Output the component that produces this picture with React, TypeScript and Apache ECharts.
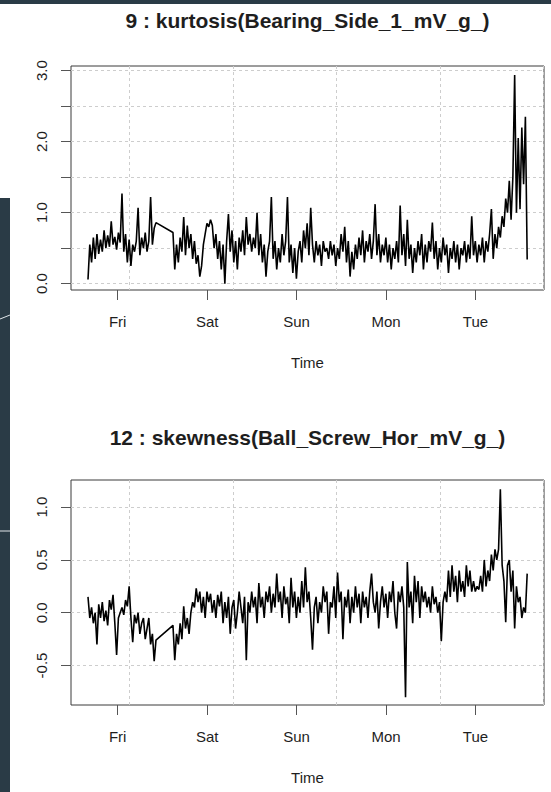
import React, { useEffect, useRef } from "react";
import * as echarts from "echarts";

// ---- Axis definitions (time in days, Thu 00:00 = 0) ----
const DAY_TICKS = [1, 2, 3, 4, 5];
const DAY_LABELS = ["Fri", "Sat", "Sun", "Mon", "Tue"];
const X_GRID_LINES = [1.1296, 2.287, 3.4444, 4.6018, 5.7592];
const X_MIN = 0.478;
const X_MAX = 5.766;

const K_Y_TICKS = [0, 0.5, 1, 1.5, 2, 2.5, 3];
const K_Y_LABELS = [0, 1, 2, 3];
const S_Y_TICKS = [-0.5, 0, 0.5, 1];
const S_Y_LABELS = [-0.5, 0, 0.5, 1];

// ---- Sampling: two runs of samples separated by a gap ----
const SEG_A_START = 0.668;
const SEG_B_START = 1.618;
const SAMPLE_STEP = 0.02;

// ---- Series 9 : kurtosis ----
const kurtosisA = [
  0.06, 0.55, 0.3, 0.65, 0.35, 0.7, 0.42, 0.62, 0.45, 0.75,
  0.5, 0.68, 0.52, 0.88, 0.55, 0.66, 0.48, 0.72, 0.58, 1.27,
  0.45, 0.7, 0.3, 0.62, 0.25, 0.55, 0.45, 0.6, 1.07, 0.4,
  0.65, 0.5, 0.72, 0.45, 0.6, 1.22, 0.55, 0.78, 0.86,
];
const kurtosisB = [
  0.72, 0.2, 0.55, 0.3, 0.65, 0.45, 0.94, 0.4, 0.82, 0.5,
  0.7, 0.35, 0.6, 0.28, 0.4, 0.1, 0.25, 0.55, 0.7, 0.85,
  0.8, 0.9, 0.82, 0.5, 0.7, 0.35, 0.6, 0.2, 0.55, 0.0,
  0.6, 0.98, 0.45, 0.75, 0.3, 0.6, 0.2, 0.65, 0.45, 0.75,
  0.4, 0.94, 0.55, 0.7, 0.45, 0.65, 0.5, 1.0, 0.4, 0.7,
  0.3, 0.55, 0.1, 0.45, 0.6, 1.22, 0.35, 0.6, 0.2, 0.5,
  0.3, 0.7, 0.4, 0.6, 1.22, 0.3, 0.55, 0.15, 0.5, 0.07,
  0.45, 0.6, 0.3, 0.75, 0.5, 0.85, 0.4, 1.07, 0.55, 0.3,
  0.6, 0.4, 0.55, 0.25, 0.6, 0.45, 0.5, 0.35, 0.6, 0.4,
  0.55, 0.25, 0.5, 0.35, 0.7, 0.45, 0.8, 0.3, 0.6, 0.1,
  0.45, 0.2, 0.55, 0.35, 0.65, 0.4, 0.75, 0.3, 0.6, 0.45,
  0.7, 0.35, 0.6, 1.12, 0.4, 0.7, 0.3, 0.55, 0.4, 0.65,
  0.3, 0.55, 0.2, 0.5, 0.35, 0.6, 0.3, 1.1, 0.4, 0.7,
  0.25, 0.9, 0.35, 0.55, 0.15, 0.5, 0.3, 0.6, 0.4, 0.7,
  0.2, 0.55, 0.3, 0.6, 0.45, 0.86, 0.35, 0.6, 0.2, 0.5,
  0.3, 0.65, 0.4, 0.55, 0.15, 0.5, 0.35, 0.6, 0.3, 0.55,
  0.2, 0.5, 0.4, 0.6, 0.3, 0.55, 0.35, 0.95, 0.4, 0.6,
  0.3, 0.55, 0.4, 0.65, 0.3, 0.6, 0.45, 0.7, 1.05, 0.35,
  0.7, 0.5, 0.8, 0.65, 0.95, 0.8, 1.2, 1.0, 1.45, 0.9,
  1.5, 2.94, 1.0, 2.05, 1.05, 2.2, 1.4, 2.35, 0.34,
];

// ---- Series 12 : skewness ----
const skewnessA = [
  0.15, -0.05, 0.05, -0.1, 0.0, -0.3, 0.08, -0.05, 0.1, -0.08,
  0.02, -0.12, 0.12, 0.03, 0.17, -0.1, -0.4, -0.05, 0.0, 0.05,
  -0.02, 0.12, 0.06, 0.25, -0.05, -0.28, -0.02, -0.1, 0.0, -0.2,
  -0.1, -0.05, -0.25, -0.15, -0.05, -0.3, -0.2, -0.46, -0.26,
];
const skewnessB = [
  -0.12, -0.45, -0.2, -0.3, -0.1, -0.25, 0.06, -0.15, -0.05, -0.2,
  0.0, 0.1, 0.05, 0.23, 0.1, 0.2, 0.0, 0.15, -0.05, 0.2,
  0.1, 0.18, 0.0, 0.12, -0.05, 0.17, 0.06, 0.2, -0.1, 0.1,
  -0.05, 0.15, -0.2, 0.05, 0.12, -0.15, 0.0, 0.2, 0.05, -0.1,
  0.15, -0.45, 0.1, 0.0, 0.2, 0.05, 0.15, -0.1, 0.28, 0.05,
  0.15, -0.05, 0.2, 0.1, 0.25, 0.0, 0.18, 0.05, 0.37, 0.1,
  0.2, -0.05, 0.25, 0.08, 0.15, -0.1, 0.33, 0.05, 0.2, -0.05,
  0.15, 0.0, 0.3, 0.05, 0.43, 0.1, 0.2, -0.05, -0.35, 0.05,
  0.15, -0.1, 0.1, 0.0, 0.25, 0.1, 0.2, -0.2, 0.1, 0.05,
  0.25, -0.05, 0.38, 0.1, 0.2, -0.25, 0.15, 0.05, 0.22, -0.1,
  0.15, 0.0, 0.25, 0.05, 0.18, -0.1, 0.2, 0.05, 0.15, -0.05,
  0.2, 0.37, 0.1, 0.0, 0.2, -0.15, 0.1, 0.25, 0.05, 0.18,
  -0.05, 0.2, 0.1, 0.3, 0.0, -0.15, 0.2, 0.1, 0.25, 0.05,
  -0.8, 0.48, 0.05, 0.2, -0.1, 0.35, 0.1, 0.3, -0.05, 0.25,
  0.1, 0.2, 0.05, 0.15, 0.0, 0.25, 0.08, 0.15, 0.0, 0.1,
  -0.27, 0.1, 0.2, 0.1, 0.4, 0.15, 0.45, 0.2, 0.35, 0.1,
  0.4, 0.2, 0.3, 0.15, 0.45, 0.25, 0.4, 0.2, 0.3, 0.2,
  0.25, 0.22, 0.35, 0.2, 0.5, 0.25, 0.4, 0.3, 0.55, 0.4,
  0.6, 0.5, 0.6, 1.17, 0.45, 0.3, -0.09, 0.45, 0.5, 0.2,
  0.4, -0.15, 0.25, 0.1, 0.15, -0.05, 0.05, 0.0, 0.37,
];

const TITLE_1 = "9 : kurtosis(Bearing_Side_1_mV_g_)";
const TITLE_2 = "12 : skewness(Ball_Screw_Hor_mV_g_)";
const X_NAME = "Time";

const FONT = "'Liberation Sans', Arial, Helvetica, sans-serif";
const TEXT_COLOR = "#1e1e1e";
const GRID_COLOR = "#cdcdcd";
const FRAME_COLOR = "#3a3a3a";
const DARK_BG = "#2a3b46";

function toPairs(a: number[], b: number[]) {
  const out: number[][] = [];
  a.forEach((v, i) => out.push([SEG_A_START + i * SAMPLE_STEP, v]));
  b.forEach((v, i) => out.push([SEG_B_START + i * SAMPLE_STEP, v]));
  return out;
}

export default function App() {
  const ref = useRef<HTMLDivElement>(null);

  useEffect(() => {
    if (!ref.current) return;
    const chart = echarts.init(ref.current, undefined, { renderer: "svg" });

    const grids = [
      { left: 71, top: 66, width: 473, height: 224 },
      { left: 71, top: 480, width: 473, height: 225 },
    ];

    const mainX = (gi: number) => ({
      type: "value",
      gridIndex: gi,
      min: X_MIN,
      max: X_MAX,
      axisLine: { show: false, onZero: false },
      axisTick: {
        show: true,
        length: 10,
        customValues: DAY_TICKS,
        lineStyle: { color: "#555", width: 1 },
      },
      axisLabel: {
        customValues: DAY_TICKS,
        formatter: (v: number) => DAY_LABELS[DAY_TICKS.indexOf(Math.round(v))] ?? "",
        margin: 24,
        fontSize: 15,
        fontFamily: FONT,
        color: TEXT_COLOR,
      },
      splitLine: { show: false },
      name: X_NAME,
      nameLocation: "middle",
      nameGap: 65,
      nameTextStyle: { fontSize: 15, fontFamily: FONT, color: TEXT_COLOR },
    });

    const gridX = (gi: number) => ({
      type: "value",
      gridIndex: gi,
      min: X_MIN,
      max: X_MAX,
      axisLine: { show: false, onZero: false },
      axisTick: { show: false, customValues: X_GRID_LINES },
      axisLabel: { show: false },
      splitLine: {
        show: true,
        lineStyle: { color: GRID_COLOR, type: [3, 3], width: 1 },
      },
    });

    const yAxis = (gi: number, min: number, max: number, ticks: number[], labels: number[]) => ({
      type: "value",
      gridIndex: gi,
      min,
      max,
      axisLine: { show: false, onZero: false },
      axisTick: {
        show: true,
        length: 10,
        customValues: ticks,
        lineStyle: { color: "#555", width: 1 },
      },
      axisLabel: {
        customValues: labels,
        rotate: 90,
        formatter: (v: number) => v.toFixed(1),
        margin: 22,
        fontSize: 15,
        fontFamily: FONT,
        color: TEXT_COLOR,
      },
      splitLine: {
        show: true,
        lineStyle: { color: GRID_COLOR, type: [3, 3], width: 1 },
      },
    });

    chart.setOption({
      animation: false,
      backgroundColor: "#ffffff",
      grid: grids.map((g) => ({
        ...g,
        show: true,
        borderColor: FRAME_COLOR,
        borderWidth: 1,
        backgroundColor: "transparent",
      })),
      xAxis: [mainX(0), mainX(1), gridX(0), gridX(1)],
      yAxis: [
        yAxis(0, -0.089, 3.066, K_Y_TICKS, K_Y_LABELS),
        yAxis(1, -0.874, 1.257, S_Y_TICKS, S_Y_LABELS),
      ],
      series: [
        {
          type: "line",
          xAxisIndex: 0,
          yAxisIndex: 0,
          data: toPairs(kurtosisA, kurtosisB),
          showSymbol: false,
          symbol: "none",
          lineStyle: { color: "#000", width: 1.6 },
          z: 5,
        },
        {
          type: "line",
          xAxisIndex: 1,
          yAxisIndex: 1,
          data: toPairs(skewnessA, skewnessB),
          showSymbol: false,
          symbol: "none",
          lineStyle: { color: "#000", width: 1.6 },
          z: 5,
        },
      ],
      graphic: [
        { type: "rect", shape: { x: 0, y: 0, width: 551, height: 4 }, style: { fill: DARK_BG }, silent: true },
        { type: "rect", shape: { x: 0, y: 198, width: 10, height: 594 }, style: { fill: DARK_BG }, silent: true },
        { type: "line", shape: { x1: 0, y1: 319, x2: 10, y2: 315 }, style: { stroke: "#dfe5e8", lineWidth: 1 }, silent: true },
        { type: "line", shape: { x1: 0, y1: 531, x2: 10, y2: 531 }, style: { stroke: "#dfe5e8", lineWidth: 1 }, silent: true },
        {
          type: "text",
          x: 307.5,
          y: 20,
          style: {
            text: TITLE_1,
            align: "center",
            verticalAlign: "middle",
            font: `bold 21px ${FONT}`,
            fill: TEXT_COLOR,
          },
        },
        {
          type: "text",
          x: 307.5,
          y: 437,
          style: {
            text: TITLE_2,
            align: "center",
            verticalAlign: "middle",
            font: `bold 21px ${FONT}`,
            fill: TEXT_COLOR,
          },
        },
      ],
    });

    return () => chart.dispose();
  }, []);

  return (
    <div
      ref={ref}
      style={{ position: "absolute", left: 0, top: 0, width: 551, height: 792, background: "#fff" }}
    />
  );
}
